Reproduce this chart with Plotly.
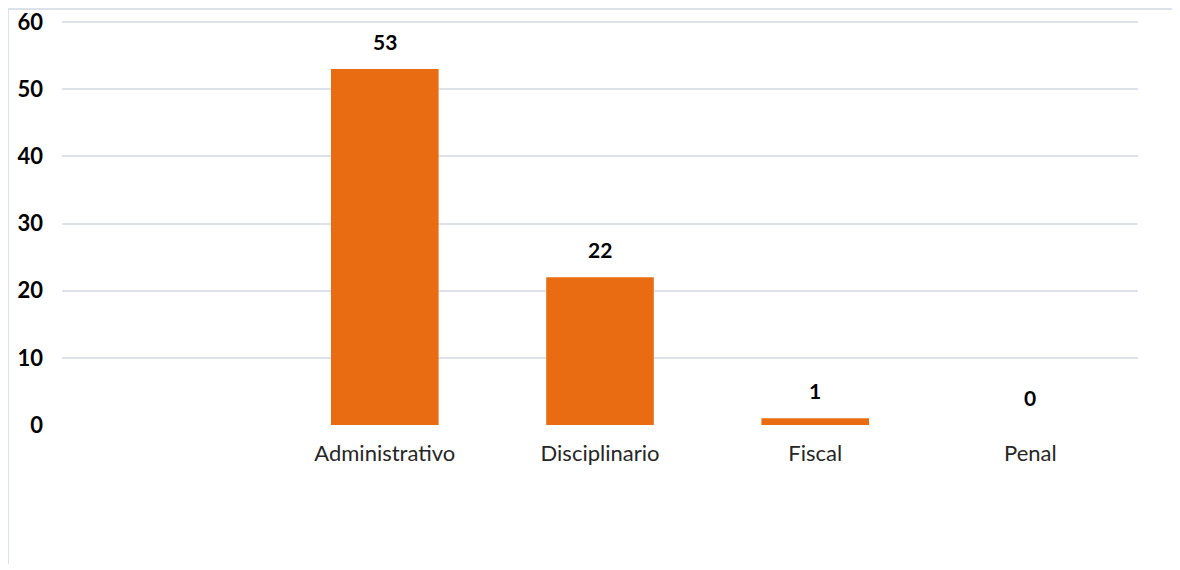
import plotly.graph_objects as go

categories = ["", "Administrativo", "Disciplinario", "Fiscal", "Penal"]
values = [None, 53, 22, 1, 0]
y_ticks = [0, 10, 20, 30, 40, 50, 60]

FONT = "Lato"
W, H = 1164, 556
L, T, PW, PH = 54, 12, 1076, 405

fig = go.Figure()
fig.add_trace(go.Bar(
    x=categories, y=values,
    marker=dict(color="#E96C12", line=dict(width=0)),
    width=0.5,
    hoverinfo="x+y",
))

for c, v in zip(categories, values):
    if v is None:
        continue
    fig.add_annotation(x=c, y=v, text=f"<b>{v}</b>", showarrow=False,
                       yshift=28, font=dict(family=FONT, size=21, color="#000000"))

fig.update_layout(
    width=W, height=H,
    margin=dict(l=L, r=W - L - PW, t=T, b=H - T - PH),
    paper_bgcolor="white", plot_bgcolor="white",
    showlegend=False,
    bargap=0.5,
    font=dict(family=FONT, color="#000000"),
    xaxis=dict(type="category", categoryorder="array", categoryarray=categories,
               showgrid=False, zeroline=False, showline=False, automargin=False,
               ticks="", ticklabelstandoff=13,
               tickfont=dict(family=FONT, size=22, color="#262626")),
    yaxis=dict(range=[0, 60.3], tickvals=y_ticks, showgrid=True, automargin=False,
               gridcolor="#DCE1EA", gridwidth=2, zeroline=False, showline=False,
               ticks="", ticklabelstandoff=18, ticklabeloverflow="allow",
               tickfont=dict(family=FONT, size=22, color="#000000", weight="bold")),
)

# outer chart-area border (top and left edges visible)
fig.add_shape(type="rect", xref="paper", yref="paper",
              x0=(0 - L) / PW, x1=(W + 20 - L) / PW,
              y0=-(H + 20 - T - PH) / PH, y1=(T + PH - 1) / PH,
              line=dict(color="#DCE1EA", width=2), fillcolor="rgba(0,0,0,0)",
              layer="below")

fig.write_html("out.html")
